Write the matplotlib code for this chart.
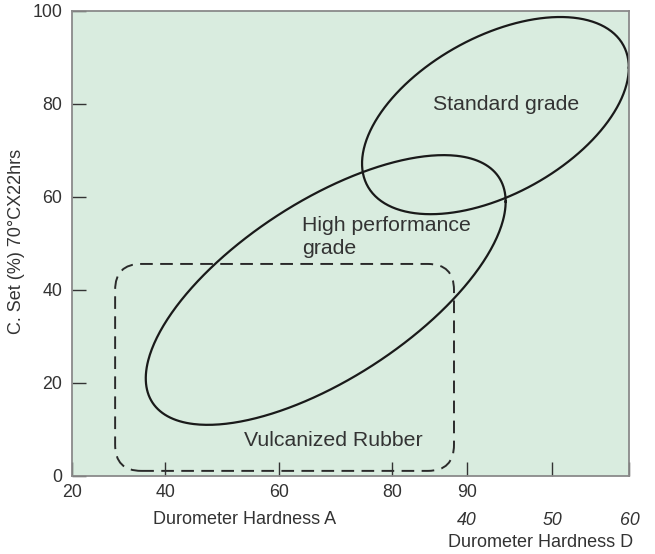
import numpy as np
import matplotlib
matplotlib.use("Agg")
from matplotlib import pyplot as plt
from matplotlib.patches import FancyBboxPatch
from matplotlib.transforms import blended_transform_factory

plt.rcParams['font.family'] = ['Liberation Sans', 'DejaVu Sans']

# x axis is schematic: hardness A left part, hardness D right part
a_ticks = ['20', '40', '60', '80', '90']
a_tick_pos = [23.6, 40, 60, 80, 93.2]
d_ticks = ['40', '50', '60']
d_tick_pos = [93.2, 108.2, 121.8]
y_ticks = [0, 20, 40, 60, 80, 100]

# ellipses: centre x, centre y, half width, half height, y-offset at x extreme
standard = [98.2, 77.5, 23.5, 21.2, 10.3]
high_perf = [68.3, 40.0, 31.7, 29.0, 19.0]
# vulcanized rubber box: x0, y0, x1, y1
vulcanized = [31.2, 1.1, 90.9, 45.6]

bg = '#d9ecdf'
ink = '#1a1a1a'
txt = '#333333'


def ellipse_xy(cx, cy, w, h, k, n=400):
    t = np.linspace(0, 2 * np.pi, n)
    x = cx + w * np.cos(t)
    y = cy + k * np.cos(t) + np.sqrt(h ** 2 - k ** 2) * np.sin(t)
    return x, y


fig = plt.figure(figsize=(6.55, 5.54), dpi=100)
ax = fig.add_axes([0.1099, 0.1408, 0.851, 0.8394])
ax.set_facecolor(bg)
ax.set_xlim(23.6, 121.8)
ax.set_ylim(0, 100)

for e in (standard, high_perf):
    x, y = ellipse_xy(*e)
    ax.plot(x, y, color=ink, lw=1.6)

x0, y0, x1, y1 = vulcanized
box = FancyBboxPatch((x0, y0), x1 - x0, y1 - y0,
                     boxstyle="round,pad=0,rounding_size=4.6",
                     mutation_aspect=1.22, fill=False, edgecolor='#2a2a2a',
                     lw=1.4, linestyle=(0, (6.5, 3.8)))
ax.add_patch(box)

ax.text(100.0, 79.8, 'Standard grade', fontsize=15.3, color=txt,
        ha='center', va='center')
ax.text(64.1, 51.4, 'High performance\ngrade', fontsize=15.3, color=txt,
        ha='left', va='center', linespacing=1.25)
ax.text(69.6, 7.7, 'Vulcanized Rubber', fontsize=15.3, color=txt,
        ha='center', va='center')

ax.set_xticks(a_tick_pos + d_tick_pos[1:])
ax.set_xticklabels(a_ticks + ['', ''])
ax.set_yticks(y_ticks)
ax.tick_params(axis='both', direction='in', length=10, width=1.0,
               color='#333333', labelsize=12.8, labelcolor=txt)
ax.tick_params(axis='x', pad=6)
ax.tick_params(axis='y', pad=7)
for s in ax.spines.values():
    s.set_color('#8a8a8a')
    s.set_linewidth(1.3)

trans = blended_transform_factory(ax.transData, ax.transAxes)
for p, lab in zip(d_tick_pos, d_ticks):
    ax.text(p, -0.095, lab, transform=trans, fontsize=12.8, color=txt,
            style='italic', ha='center', va='center')
ax.text(0.84, -0.143, 'Durometer Hardness D', transform=ax.transAxes,
        fontsize=13, color=txt, ha='center', va='center')

ax.set_xlabel('Durometer Hardness A', fontsize=13, color=txt)
ax.xaxis.set_label_coords(0.31, -0.075)
ax.set_ylabel('C. Set (%) 70°CX22hrs', fontsize=13, color=txt)
ax.yaxis.set_label_coords(-0.085, 0.505)

fig.savefig('out.png', dpi=100)
